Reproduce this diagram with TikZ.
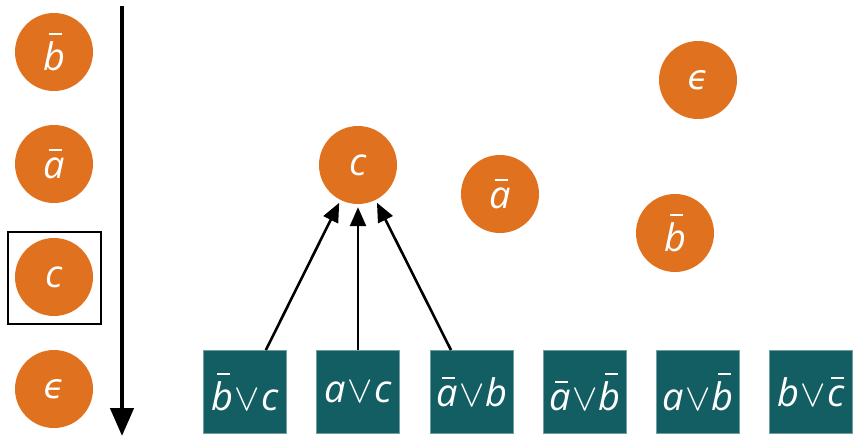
\documentclass[tikz,border=0pt]{standalone}
\usepackage{fix-cm}
\usepackage{fontspec}
\setmainfont{Open Sans}
\newfontfamily\symfont{DejaVu Sans}
\usetikzlibrary{arrows.meta}
\definecolor{myorange}{RGB}{224,113,30}
\definecolor{myteal}{RGB}{19,94,99}
\newcommand\litx[1]{\textit{#1}}
\newcommand\ob[1]{\begingroup\setbox0\hbox{\textit{#1}}%
  \rlap{\kern\dimexpr0.5\wd0-0.13em\relax\raisebox{\dimexpr\ht0+0.17em\relax}{\rule{0.34em}{0.05em}}}\box0\endgroup}
\newcommand\vv{\kern1.5pt$\vee$\kern1.5pt}
\newcommand\eps{{\symfont\fontsize{34}{40}\selectfont\itshape ϵ}}
\begin{document}
\begin{tikzpicture}[x=1pt,y=-1pt,
  litnode/.style={circle, fill=myorange, minimum size=78pt, inner sep=0pt, text=white, font=\fontsize{38}{45}\selectfont},
  clause/.style={rectangle, fill=myteal, draw=myteal!60!white, line width=0.8pt, minimum size=83pt, inner sep=0pt, text=white, font=\fontsize{38}{45}\selectfont},
  implies/.style={line width=2.6pt, -{Triangle[length=19pt,width=16pt]}, shorten >=3pt},
  trail/.style={line width=4.5pt, -{Triangle[length=28pt,width=23pt]}},
  selbox/.style={draw, line width=2pt, minimum width=93pt, minimum height=92pt, inner sep=0pt}]
\useasboundingbox (0,0) rectangle (853,437);
% trail column
\node[litnode] (t1) at (54,52) {\ob{b}};
\node[litnode] (t2) at (54,164) {\ob{a}};
\node[litnode] (t3) at (54,277) {\litx{c}};
\node[litnode] (t4) at (54,389) {\eps};
\node[selbox] (sel) at (54,278) {};
\coordinate (ttop) at (122,6);
\coordinate (tbot) at (122,436);
\draw[trail] (ttop) -- (tbot);
% graph
\node[litnode] (c) at (358,165) {\litx{c}};
\node[litnode] (a) at (500,194) {\ob{a}};
\node[litnode] (e) at (698,80) {\eps};
\node[litnode] (b) at (675,233) {\ob{b}};
% clauses
\node[clause] (s1) at (245,392) {\ob{b}\vv\litx{c}};
\node[clause] (s2) at (358,392) {\litx{a}\vv\litx{c}};
\node[clause] (s3) at (472,392) {\ob{a}\vv\litx{b}};
\node[clause] (s4) at (585,392) {\ob{a}\vv\ob{b}};
\node[clause] (s5) at (698,392) {\litx{a}\vv\ob{b}};
\node[clause] (s6) at (811,392) {\litx{b}\vv\ob{c}};
\draw[implies] (s1) -- (c);
\draw[implies] (s2) -- (c);
\draw[implies] (s3) -- (c);
\end{tikzpicture}
\end{document}
